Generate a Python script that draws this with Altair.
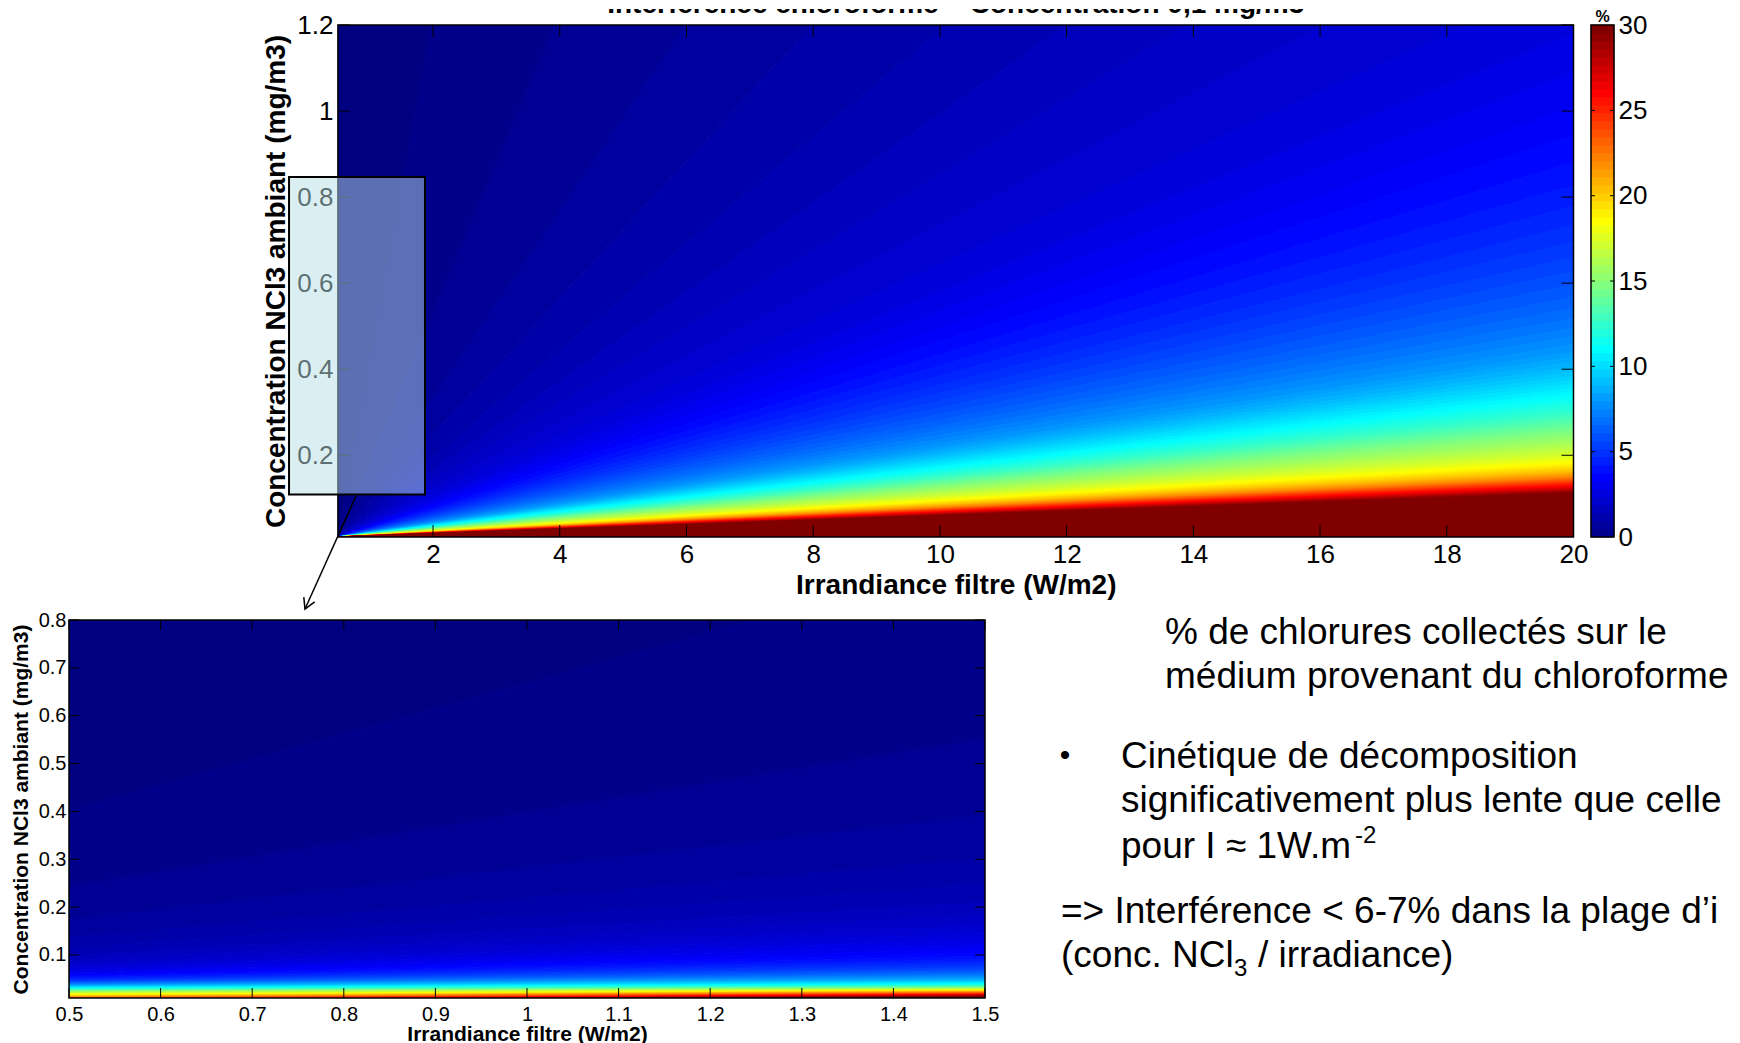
import altair as alt
import pandas as pd

# ---------------- data ----------------
# contour levels (%) of the filled contour plot
LEVELS = [
    0.3, 0.6, 0.9, 1.2, 1.5, 1.8, 2.1, 2.4, 2.7, 3.0,
    3.3, 3.6, 3.9, 4.2, 4.5, 4.8, 5.1, 5.4, 5.7, 6.0,
    6.3, 6.6, 6.9, 7.2, 7.5, 7.8, 8.1, 8.4, 8.7, 9.0,
    9.3, 9.6, 9.9, 10.2, 10.5, 10.8, 11.1, 11.4, 11.7, 12.0,
    12.3, 12.6, 12.9, 13.2, 13.5, 13.8, 14.1, 14.4, 14.7, 15.0,
    15.3, 15.6, 15.9, 16.2, 16.5, 16.8, 17.1, 17.4, 17.7, 18.0,
    18.3, 18.6, 18.9, 19.2, 19.5, 19.8, 20.1, 20.4, 20.7, 21.0,
    21.3, 21.6, 21.9, 22.2, 22.5, 22.8, 23.1, 23.4, 23.7, 24.0,
    24.3, 24.6, 24.9, 25.2, 25.5, 25.8, 26.1, 26.4, 26.7, 27.0,
    27.3, 27.6, 27.9, 28.2, 28.5, 28.8, 29.1, 29.4, 29.7, 30.0,
]
# main plot: concentration reached by each contour at irradiance 20 W/m2
# (contours fan out from the lower-left corner; values > 1.2 leave by the top)
MAIN_C_AT_I20 = [
    15.8, 6.79, 4.24, 3.11, 2.43, 2.03, 1.74, 1.50, 1.31, 1.18,
    1.09, 1.01, 0.944, 0.881, 0.827, 0.779, 0.735, 0.696, 0.660, 0.627,
    0.597, 0.568, 0.542, 0.518, 0.496, 0.476, 0.457, 0.440, 0.428, 0.416,
    0.404, 0.394, 0.384, 0.375, 0.366, 0.356, 0.347, 0.339, 0.330, 0.322,
    0.314, 0.306, 0.299, 0.292, 0.286, 0.280, 0.274, 0.268, 0.262, 0.256,
    0.250, 0.243, 0.236, 0.230, 0.224, 0.218, 0.212, 0.206, 0.201, 0.196,
    0.191, 0.187, 0.183, 0.179, 0.175, 0.172, 0.169, 0.166, 0.163, 0.160,
    0.158, 0.156, 0.153, 0.151, 0.149, 0.147, 0.145, 0.144, 0.142, 0.141,
    0.139, 0.137, 0.136, 0.134, 0.133, 0.131, 0.1295, 0.128, 0.1266, 0.1252,
    0.1238, 0.1225, 0.1211, 0.1199, 0.1186, 0.1174, 0.1162, 0.1146, 0.1131, 0.112,
]
# zoomed plot: concentration of each contour at irradiance 0.5 and 1.5 W/m2
INSET_C_AT_I05 = [
    0.403, 0.243, 0.174, 0.1375, 0.1147, 0.0989, 0.0876, 0.0792, 0.0726, 0.0673,
    0.0630, 0.0594, 0.0564, 0.0538, 0.0516, 0.0496, 0.0478, 0.0463, 0.0449, 0.0437,
    0.0425, 0.0415, 0.0406, 0.0397, 0.0388, 0.0379, 0.0372, 0.0364, 0.0356, 0.0350,
    0.0343, 0.0336, 0.0330, 0.0325, 0.0318, 0.0312, 0.0306, 0.0301, 0.0296, 0.0290,
    0.0285, 0.0279, 0.0274, 0.0270, 0.0264, 0.0259, 0.0255, 0.0250, 0.0245, 0.0240,
    0.0235, 0.0229, 0.0224, 0.0219, 0.0213, 0.0207, 0.0201, 0.0195, 0.0189, 0.0183,
    0.0177, 0.0171, 0.0165, 0.0159, 0.0154, 0.0148, 0.0143, 0.0138, 0.0133, 0.0129,
    0.0124, 0.0119, 0.0115, 0.0111, 0.0107, 0.0103, 0.0099, 0.0095, 0.0091, 0.0087,
    0.0083, 0.0079, 0.0075, 0.0071, 0.0067, 0.0063, 0.0059, 0.0055, 0.0051, 0.0047,
    0.0043, 0.0039, 0.0035, 0.0031, 0.0027, 0.0023, 0.0019, 0.0015, 0.0011, 0.0007,
]
INSET_C_AT_I15 = [
    0.934, 0.552, 0.392, 0.303, 0.248, 0.210, 0.183, 0.162, 0.146, 0.1327,
    0.1215, 0.1122, 0.1041, 0.0971, 0.0911, 0.0858, 0.0812, 0.0770, 0.0733, 0.0700,
    0.0670, 0.0642, 0.0617, 0.0594, 0.0573, 0.0553, 0.0533, 0.0515, 0.0499, 0.0483,
    0.0469, 0.0455, 0.0442, 0.0430, 0.0419, 0.0408, 0.0398, 0.0389, 0.0381, 0.0373,
    0.0366, 0.0359, 0.0352, 0.0345, 0.0339, 0.0333, 0.0328, 0.0322, 0.0317, 0.0312,
    0.0307, 0.0303, 0.0298, 0.0294, 0.0290, 0.0286, 0.0282, 0.0278, 0.0275, 0.0271,
    0.0267, 0.0263, 0.0259, 0.0255, 0.0251, 0.0247, 0.0244, 0.0240, 0.0237, 0.0233,
    0.0230, 0.0226, 0.0222, 0.0218, 0.0214, 0.0210, 0.0206, 0.0202, 0.0198, 0.0195,
    0.0191, 0.0187, 0.0184, 0.0181, 0.0177, 0.0174, 0.0171, 0.0167, 0.0164, 0.0161,
    0.0158, 0.0154, 0.0151, 0.0148, 0.0145, 0.0142, 0.0138, 0.0135, 0.0132, 0.0128,
]

MAIN_X_RANGE = [0.5, 20]
MAIN_Y_RANGE = [0.01, 1.2]
INSET_X_RANGE = [0.5, 1.5]
INSET_Y_RANGE = [0.01, 0.8]
CBAR_RANGE = [0, 30]

MAIN_X_TICKS = [2, 4, 6, 8, 10, 12, 14, 16, 18, 20]
MAIN_Y_TICKS = [0.2, 0.4, 0.6, 0.8, 1.0, 1.2]
INSET_X_TICKS = [0.5, 0.6, 0.7, 0.8, 0.9, 1.0, 1.1, 1.2, 1.3, 1.4, 1.5]
INSET_Y_TICKS = [0.1, 0.2, 0.3, 0.4, 0.5, 0.6, 0.7, 0.8]
CBAR_TICKS = [0, 5, 10, 15, 20, 25, 30]
CBAR_INNER_TICKS = [5, 10, 15, 20, 25]

# magnifier box and arrow (in main-plot data units)
ZOOM_BOX_X = [-0.273, 1.873]
ZOOM_BOX_Y = [0.109, 0.847]
ARROW_X = [0.784, -0.021]
ARROW_Y = [0.1053, -0.1574]
ARROW_HEAD_X = [-0.040, -0.021, 0.132]
ARROW_HEAD_Y = [-0.1297, -0.1574, -0.141]

TITLE = "Interférence chloroforme – Concentration 0,1 mg/m3"
X_TITLE = "Irrandiance filtre (W/m2)"
Y_TITLE = "Concentration NCl3 ambiant (mg/m3)"

FONT = "Liberation Sans"
DUMMY = pd.DataFrame({"a": [0]})

# ---------------- layout (pixels) ----------------
PL, PT = 269, 16            # main plot left / top inside row A view
W1, H1 = 1235.5, 512        # main plot size
PR, PB = PL + W1, PT + H1
CBL = PR + 17.5             # colour bar left
WC = 23
WA, HA = CBL + WC, PB       # row A view size
W2, H2 = 916, 378           # zoomed plot (row B)


def jet_hex(t):
    def ch(c):
        return max(0.0, min(1.0, 1.5 - abs(4 * t - c)))
    return "#{:02x}{:02x}{:02x}".format(round(255 * ch(3)), round(255 * ch(2)), round(255 * ch(1)))


def band_table(x_left, x_right, c_left, c_right, top, bottom):
    rows = []
    n = len(LEVELS)
    for j in range(n + 1):
        lower = 0.0 if j == 0 else LEVELS[j - 1]
        col = jet_hex(lower / 30.0)
        up_l = top if j == 0 else c_left[j - 1]
        up_r = top if j == 0 else c_right[j - 1]
        lo_l = bottom if j == n else c_left[j]
        lo_r = bottom if j == n else c_right[j]
        rows.append({"band": j, "x": x_left, "y": lo_l, "y2": up_l, "col": col})
        rows.append({"band": j, "x": x_right, "y": lo_r, "y2": up_r, "col": col})
    return pd.DataFrame(rows)


def tick_layers(xvals, yvals, xs, ys, left, top, right, bottom, length):
    dfx = pd.DataFrame({"x": xvals})
    dfy = pd.DataFrame({"y": yvals})
    r = dict(color="black", strokeWidth=1)
    X = alt.X("x:Q", scale=xs, axis=None)
    Y = alt.Y("y:Q", scale=ys, axis=None)
    return [
        alt.Chart(dfx).mark_rule(**r).encode(x=X, y=alt.value(bottom), y2=alt.value(bottom - length)),
        alt.Chart(dfx).mark_rule(**r).encode(x=X, y=alt.value(top), y2=alt.value(top + length)),
        alt.Chart(dfy).mark_rule(**r).encode(y=Y, x=alt.value(left), x2=alt.value(left + length)),
        alt.Chart(dfy).mark_rule(**r).encode(y=Y, x=alt.value(right), x2=alt.value(right - length)),
    ]


def frame(left, top, right, bottom, sw):
    return alt.Chart(DUMMY).mark_rect(fill="white", fillOpacity=0, stroke="black", strokeWidth=sw).encode(
        x=alt.value(left), x2=alt.value(right), y=alt.value(top), y2=alt.value(bottom))


# ---------------- row A: main contour plot + colour bar ----------------
xs1 = alt.Scale(domain=MAIN_X_RANGE, range=[PL, PR], nice=False, zero=False)
ys1 = alt.Scale(domain=MAIN_Y_RANGE, range=[PB, PT], nice=False, zero=False)
main_df = band_table(MAIN_X_RANGE[0], MAIN_X_RANGE[1], [MAIN_Y_RANGE[0]] * len(LEVELS), MAIN_C_AT_I20, 60.0, -5.0)

main_bands = alt.Chart(main_df).mark_area(clip=True, strokeWidth=1, interpolate="linear").encode(
    x=alt.X("x:Q", scale=xs1, axis=alt.Axis(
        values=MAIN_X_TICKS, format="~g", ticks=False, domain=False, grid=False, labelFlush=False,
        labelFontSize=26, labelPadding=4, title=X_TITLE, titleFontSize=28,
        titleFontWeight="bold", titleY=56, titleBaseline="alphabetic")),
    y=alt.Y("y:Q", scale=ys1, axis=alt.Axis(
        values=MAIN_Y_TICKS, format="~g", ticks=False, domain=False, grid=False, offset=-PL,
        labelFlush=False, labelFontSize=26, labelPadding=5, title=Y_TITLE, titleFontSize=28,
        titleFontWeight="bold", titleX=-48, titleY=PT + H1 / 2)),
    y2="y2:Q",
    color=alt.Color("col:N", scale=None),
    stroke=alt.Stroke("col:N", scale=None),
    detail="band:N",
)

# white strip above the plot hides the parts of the fans that leave through the top
top_mask = alt.Chart(DUMMY).mark_rect(fill="white").encode(
    x=alt.value(PL - 2), x2=alt.value(PR + 2), y=alt.value(0), y2=alt.value(PT))

box_df = pd.DataFrame({"x": [ZOOM_BOX_X[0]], "x2": [ZOOM_BOX_X[1]], "y": [ZOOM_BOX_Y[0]], "y2": [ZOOM_BOX_Y[1]]})
zoom_box = alt.Chart(box_df).mark_rect(fill="#b8dde3", fillOpacity=0.5, stroke="black", strokeWidth=2).encode(
    x=alt.X("x:Q", scale=xs1, axis=None), x2="x2:Q",
    y=alt.Y("y:Q", scale=ys1, axis=None), y2="y2:Q")

arrow_df = pd.DataFrame({
    "x": ARROW_X + ARROW_HEAD_X,
    "y": ARROW_Y + ARROW_HEAD_Y,
    "o": [0, 1, 0, 1, 2],
    "seg": ["line", "line", "head", "head", "head"],
})
arrow = alt.Chart(arrow_df).mark_line(color="black", strokeWidth=1.5).encode(
    x=alt.X("x:Q", scale=xs1, axis=None), y=alt.Y("y:Q", scale=ys1, axis=None),
    order="o:Q", detail="seg:N")

cb_df = pd.DataFrame({
    "y": [30 * i / 64 for i in range(64)],
    "y2": [30 * (i + 1) / 64 for i in range(64)],
    "col": [jet_hex((i + 1) / 64) for i in range(64)],
})
cbs = alt.Scale(domain=CBAR_RANGE, range=[PB, PT], nice=False, zero=False)
cb_rects = alt.Chart(cb_df).mark_rect(strokeWidth=0.6).encode(
    x=alt.value(CBL), x2=alt.value(CBL + WC),
    y=alt.Y("y:Q", scale=cbs, axis=alt.Axis(
        orient="right", values=CBAR_TICKS, ticks=False, domain=False, grid=False, labelFlush=False,
        labelFontSize=26, labelPadding=4, title="")),
    y2="y2:Q",
    color=alt.Color("col:N", scale=None),
    stroke=alt.Stroke("col:N", scale=None),
)
cb_tick_df = pd.DataFrame({"y": CBAR_INNER_TICKS})
cb_ticks_l = alt.Chart(cb_tick_df).mark_rule(color="black", strokeWidth=1).encode(
    y=alt.Y("y:Q", scale=cbs, axis=None), x=alt.value(CBL), x2=alt.value(CBL + 4))
cb_ticks_r = alt.Chart(cb_tick_df).mark_rule(color="black", strokeWidth=1).encode(
    y=alt.Y("y:Q", scale=cbs, axis=None), x=alt.value(CBL + WC - 4), x2=alt.value(CBL + WC))
cb_pct = alt.Chart(DUMMY).mark_text(text="%", font=FONT, fontSize=16, fontWeight="bold",
                                    align="center", baseline="alphabetic", color="black").encode(
    x=alt.value(CBL + WC / 2), y=alt.value(PT - 3))

title_txt = alt.Chart(DUMMY).mark_text(
    text=TITLE, font=FONT, fontSize=28, fontWeight="bold", align="center",
    baseline="alphabetic", color="black", clip=True).encode(
    x=alt.value(PL + W1 / 2), y=alt.value(4))

# invisible anchor: fixes the top-left corner of the whole picture
anchor = alt.Chart(DUMMY).mark_rule(strokeOpacity=0, strokeWidth=1).encode(
    x=alt.value(-60.5), x2=alt.value(-60.5), y=alt.value(0.5), y2=alt.value(2))

row_a = alt.layer(
    main_bands, top_mask,
    *tick_layers(MAIN_X_TICKS, MAIN_Y_TICKS, xs1, ys1, PL, PT, PR, PB, 12),
    frame(PL, PT, PR, PB, 1.5), zoom_box, arrow,
    cb_rects, cb_ticks_l, cb_ticks_r, frame(CBL, PT, CBL + WC, PB, 1.5), cb_pct,
    title_txt, anchor,
).resolve_scale(y="independent").resolve_axis(x="independent", y="independent").properties(
    width=WA, height=HA)

# ---------------- row B: zoomed contour plot + slide text ----------------
xs2 = alt.Scale(domain=INSET_X_RANGE, nice=False, zero=False)
ys2 = alt.Scale(domain=INSET_Y_RANGE, nice=False, zero=False)
inset_df = band_table(INSET_X_RANGE[0], INSET_X_RANGE[1], INSET_C_AT_I05, INSET_C_AT_I15, 5.0, -1.0)
inset_bands = alt.Chart(inset_df).mark_area(clip=True, strokeWidth=1, interpolate="linear").encode(
    x=alt.X("x:Q", scale=xs2, axis=alt.Axis(
        values=INSET_X_TICKS, format="~g", ticks=False, domain=False, grid=False, labelFlush=False,
        labelFontSize=20, labelPadding=6, title=X_TITLE, titleFontSize=21,
        titleFontWeight="bold", titleY=42, titleBaseline="alphabetic")),
    y=alt.Y("y:Q", scale=ys2, axis=alt.Axis(
        values=INSET_Y_TICKS, format="~g", ticks=False, domain=False, grid=False, labelFlush=False,
        labelFontSize=20, labelPadding=3, title=Y_TITLE, titleFontSize=21,
        titleFontWeight="bold", titleX=-38, titleY=H2 / 2)),
    y2="y2:Q",
    color=alt.Color("col:N", scale=None),
    stroke=alt.Stroke("col:N", scale=None),
    detail="band:N",
)


def txt(s, x, y, size=37, align="left"):
    return alt.Chart(DUMMY).mark_text(
        text=s, font=FONT, fontSize=size, align=align,
        baseline="alphabetic", color="black").encode(x=alt.value(x), y=alt.value(y))


row_b = alt.layer(
    inset_bands,
    *tick_layers(INSET_X_TICKS, INSET_Y_TICKS, xs2, ys2, 0, 0, W2, H2, 10),
    frame(0, 0, W2, H2, 1.5),
    txt("% de chlorures collectés sur le", 1096, 24),
    txt("médium provenant du chloroforme", 1096, 68),
    txt("•", 996, 145, size=30, align="center"),
    txt("Cinétique de décomposition", 1052, 148),
    txt("significativement plus lente que celle", 1052, 192),
    txt("pour I ≈ 1W.m", 1052, 238),
    txt("-2", 1286, 223, size=24),
    txt("=> Interférence < 6-7% dans la plage d’i", 992, 303),
    txt("(conc. NCl", 992, 347),
    txt("3", 1165, 356, size=24),
    txt("/ irradiance)", 1189, 347),
).resolve_axis(x="independent", y="independent").properties(width=W2, height=H2)

chart = alt.vconcat(row_a, row_b, spacing=83, bounds="flush").properties(
    padding={"left": 0, "top": 0, "right": 0, "bottom": 0},
    background="white",
).configure_view(stroke="transparent").configure_axis(
    labelFont=FONT, titleFont=FONT, labelColor="black", titleColor="black")

chart.save("out.html", embed_options={"renderer": "svg", "actions": False})
